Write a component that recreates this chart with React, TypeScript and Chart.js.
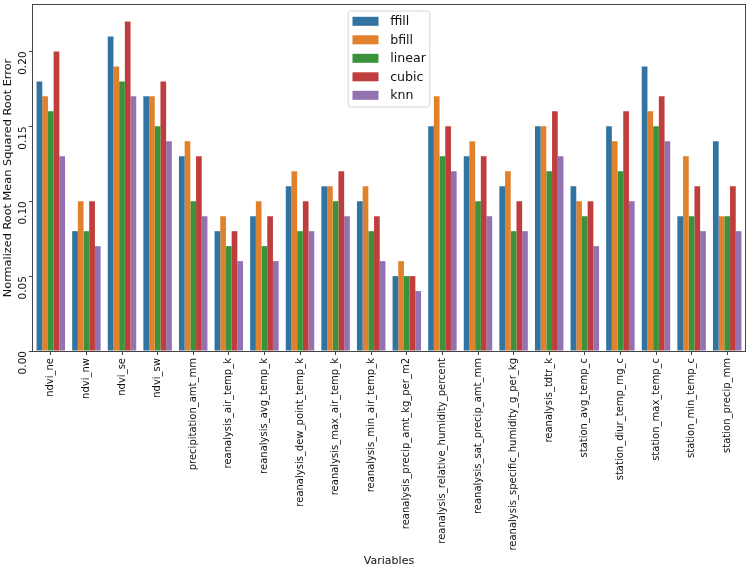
import React, { useEffect, useRef } from 'react';
import { Chart, registerables } from 'chart.js';

Chart.register(...registerables);

const categories = [
  'ndvi_ne',
  'ndvi_nw',
  'ndvi_se',
  'ndvi_sw',
  'precipitation_amt_mm',
  'reanalysis_air_temp_k',
  'reanalysis_avg_temp_k',
  'reanalysis_dew_point_temp_k',
  'reanalysis_max_air_temp_k',
  'reanalysis_min_air_temp_k',
  'reanalysis_precip_amt_kg_per_m2',
  'reanalysis_relative_humidity_percent',
  'reanalysis_sat_precip_amt_mm',
  'reanalysis_specific_humidity_g_per_kg',
  'reanalysis_tdtr_k',
  'station_avg_temp_c',
  'station_diur_temp_rng_c',
  'station_max_temp_c',
  'station_min_temp_c',
  'station_precip_mm',
];

const seriesNames = ['ffill', 'bfill', 'linear', 'cubic', 'knn'];

const ffill = [0.18, 0.08, 0.21, 0.17, 0.13, 0.08, 0.09, 0.11, 0.11, 0.10, 0.05, 0.15, 0.13, 0.11, 0.15, 0.11, 0.15, 0.19, 0.09, 0.14];
const bfill = [0.17, 0.10, 0.19, 0.17, 0.14, 0.09, 0.10, 0.12, 0.11, 0.11, 0.06, 0.17, 0.14, 0.12, 0.15, 0.10, 0.14, 0.16, 0.13, 0.09];
const linear = [0.16, 0.08, 0.18, 0.15, 0.10, 0.07, 0.07, 0.08, 0.10, 0.08, 0.05, 0.13, 0.10, 0.08, 0.12, 0.09, 0.12, 0.15, 0.09, 0.09];
const cubic = [0.20, 0.10, 0.22, 0.18, 0.13, 0.08, 0.09, 0.10, 0.12, 0.09, 0.05, 0.15, 0.13, 0.10, 0.16, 0.10, 0.16, 0.17, 0.11, 0.11];
const knn = [0.13, 0.07, 0.17, 0.14, 0.09, 0.06, 0.06, 0.08, 0.09, 0.06, 0.04, 0.12, 0.09, 0.08, 0.13, 0.07, 0.10, 0.14, 0.08, 0.08];

const seriesValues = [ffill, bfill, linear, cubic, knn];
const seriesColors = ['#3274a1', '#e1812c', '#3a923a', '#c03d3e', '#9372b2'];

const yTicks = [0, 0.05, 0.1, 0.15, 0.2];
const yMax = 0.231;

const xTitle = 'Variables';
const yTitle = 'Normalized Root Mean Squared Root Error';

const FONT = '"DejaVu Sans", sans-serif';
const TEXT = '#111';
const SPINE = '#444';

const framePlugin = {
  id: 'frame',
  afterDraw(chart: any) {
    const { ctx, chartArea } = chart;
    ctx.save();
    ctx.strokeStyle = SPINE;
    ctx.lineWidth = 1;
    ctx.strokeRect(
      Math.round(chartArea.left) - 0.5,
      Math.round(chartArea.top) - 0.5,
      Math.round(chartArea.right - chartArea.left) + 1,
      Math.round(chartArea.bottom - chartArea.top) + 1
    );
    ctx.restore();
  },
};

const legendPlugin = {
  id: 'boxLegend',
  afterDraw(chart: any) {
    const { ctx, chartArea } = chart;
    const datasets = chart.data.datasets;
    const fontSize = 12.6;
    const rowH = 18.5;
    const patchW = 26;
    const patchH = 9;
    const padL = 4.3;
    const gap = 11.7;
    const padR = 4;
    ctx.save();
    ctx.font = `${fontSize}px ${FONT}`;
    let textW = 0;
    datasets.forEach((d: any) => {
      textW = Math.max(textW, ctx.measureText(d.label).width);
    });
    const w = padL + patchW + gap + textW + padR;
    const h = 96;
    const cx = (chartArea.left + chartArea.right) / 2;
    const x0 = cx - w / 2;
    const y0 = chartArea.top + 6;
    const r = 3;
    ctx.beginPath();
    ctx.moveTo(x0 + r, y0);
    ctx.lineTo(x0 + w - r, y0);
    ctx.quadraticCurveTo(x0 + w, y0, x0 + w, y0 + r);
    ctx.lineTo(x0 + w, y0 + h - r);
    ctx.quadraticCurveTo(x0 + w, y0 + h, x0 + w - r, y0 + h);
    ctx.lineTo(x0 + r, y0 + h);
    ctx.quadraticCurveTo(x0, y0 + h, x0, y0 + h - r);
    ctx.lineTo(x0, y0 + r);
    ctx.quadraticCurveTo(x0, y0, x0 + r, y0);
    ctx.closePath();
    ctx.fillStyle = 'rgba(255,255,255,0.8)';
    ctx.fill();
    ctx.strokeStyle = '#d6d6d6';
    ctx.lineWidth = 1;
    ctx.stroke();
    ctx.textBaseline = 'middle';
    ctx.textAlign = 'left';
    datasets.forEach((d: any, i: number) => {
      const cy = y0 + 10.3 + i * rowH;
      ctx.fillStyle = d.backgroundColor;
      ctx.fillRect(x0 + padL, cy - patchH / 2, patchW, patchH);
      ctx.fillStyle = TEXT;
      ctx.fillText(d.label, x0 + padL + patchW + gap, cy + 0.5);
    });
    ctx.restore();
  },
};

export default function App() {
  const canvasRef = useRef<HTMLCanvasElement | null>(null);

  useEffect(() => {
    if (!canvasRef.current) return;
    const chart = new Chart(canvasRef.current, {
      type: 'bar',
      data: {
        labels: categories,
        datasets: seriesNames.map((name, i) => ({
          label: name,
          data: seriesValues[i],
          backgroundColor: seriesColors[i],
          borderWidth: 0,
          categoryPercentage: 0.8,
          barPercentage: 1.0,
        })),
      },
      options: {
        animation: false,
        responsive: true,
        maintainAspectRatio: false,
        layout: { padding: { top: 5, right: 5, left: 0, bottom: 0 } },
        font: { family: FONT },
        plugins: {
          legend: { display: false },
          tooltip: { enabled: false },
        },
        scales: {
          x: {
            type: 'category',
            grid: {
              display: true,
              drawOnChartArea: false,
              drawTicks: true,
              tickLength: 4,
              offset: false,
              color: SPINE,
            },
            border: { display: false },
            ticks: {
              autoSkip: false,
              minRotation: 90,
              maxRotation: 90,
              padding: 3,
              color: TEXT,
              font: { family: FONT, size: 10 },
            },
            title: {
              display: true,
              text: xTitle,
              color: TEXT,
              font: { family: FONT, size: 11 },
              padding: { top: 0, bottom: 4 },
            },
            afterFit: (scale: any) => {
              scale.height = 221;
              scale.paddingLeft = 0;
              scale.paddingRight = 0;
            },
          },
          y: {
            type: 'linear',
            min: 0,
            max: yMax,
            grid: {
              display: true,
              drawOnChartArea: false,
              drawTicks: true,
              tickLength: 4,
              color: SPINE,
            },
            border: { display: false },
            ticks: {
              includeBounds: false,
              minRotation: 90,
              maxRotation: 90,
              padding: 6,
              color: TEXT,
              font: { family: FONT, size: 10.5 },
              callback: (v: any) => Number(v).toFixed(2),
            },
            afterBuildTicks: (axis: any) => {
              axis.ticks = yTicks.map((v) => ({ value: v }));
            },
            title: {
              display: true,
              text: yTitle,
              color: TEXT,
              font: { family: FONT, size: 11.3 },
              padding: { top: 1, bottom: 0 },
            },
            afterFit: (scale: any) => {
              scale.width = 33;
              scale.paddingTop = 0;
              scale.paddingBottom = 0;
            },
          },
        },
      } as any,
      plugins: [framePlugin, legendPlugin],
    });
    return () => chart.destroy();
  }, []);

  return (
    <div style={{ position: 'fixed', left: 0, top: 0, width: 750, height: 572, background: '#fff' }}>
      <canvas ref={canvasRef} />
    </div>
  );
}
